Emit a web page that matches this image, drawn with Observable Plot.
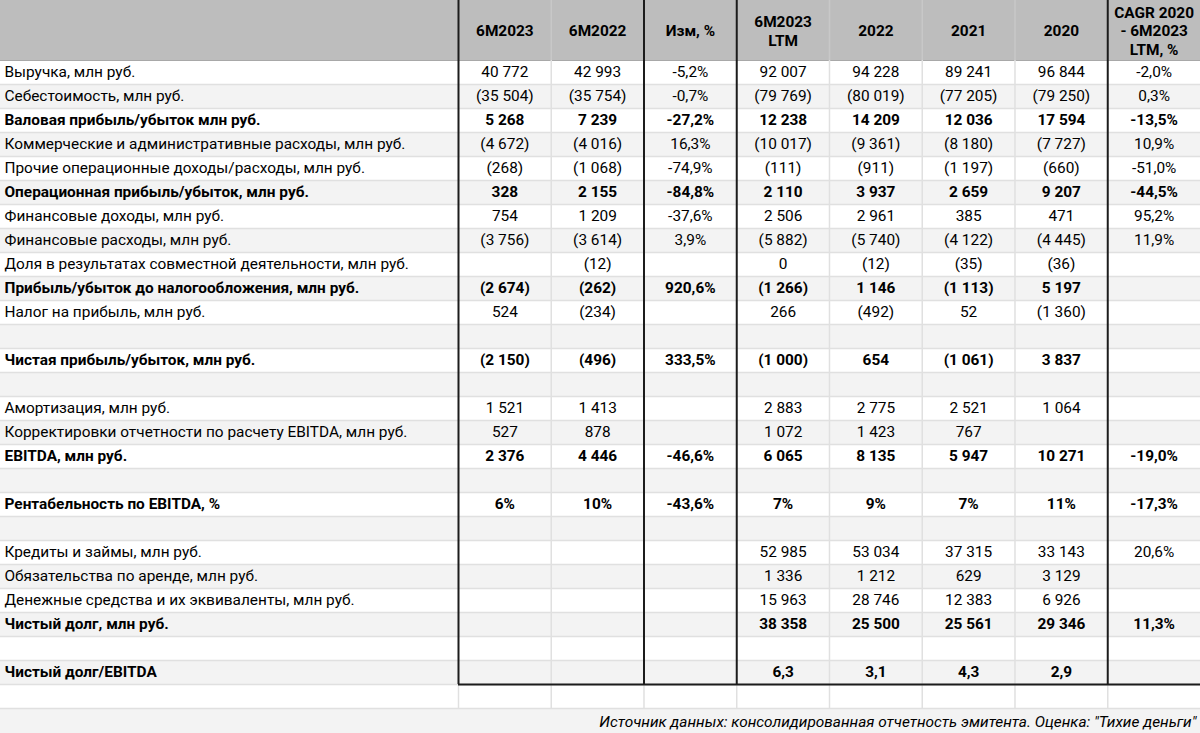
<!DOCTYPE html>
<html><head><meta charset="utf-8">
<script src="https://cdn.jsdelivr.net/npm/d3@7"></script>
<script src="https://cdn.jsdelivr.net/npm/@observablehq/plot@0.6"></script>
<style>
html,body{margin:0;padding:0;background:#fff;}
#chart svg{display:block;}
</style></head><body><div id="chart"></div>
<script>
// ---------- data ----------
const columns = ["6M2023", "6M2022", "Изм, %", "6M2023\nLTM", "2022", "2021", "2020", "CAGR 2020\n- 6M2023\nLTM, %"];
const percentColumns = ["Изм, %", "CAGR 2020\n- 6M2023\nLTM, %"];

const rowLabels = [
  "Выручка, млн руб.",
  "Себестоимость, млн руб.",
  "Валовая прибыль/убыток млн руб.",
  "Коммерческие и административные расходы, млн руб.",
  "Прочие операционные доходы/расходы, млн руб.",
  "Операционная прибыль/убыток, млн руб.",
  "Финансовые доходы, млн руб.",
  "Финансовые расходы, млн руб.",
  "Доля в результатах совместной деятельности, млн руб.",
  "Прибыль/убыток до налогообложения, млн руб.",
  "Налог на прибыль, млн руб.",
  "",
  "Чистая прибыль/убыток, млн руб.",
  "",
  "Амортизация, млн руб.",
  "Корректировки отчетности по расчету EBITDA, млн руб.",
  "EBITDA, млн руб.",
  "",
  "Рентабельность по EBITDA, %",
  "",
  "Кредиты и займы, млн руб.",
  "Обязательства по аренде, млн руб.",
  "Денежные средства и их эквиваленты, млн руб.",
  "Чистый долг, млн руб.",
  "",
  "Чистый долг/EBITDA",
  ""
];
const totalRows = [
  "Валовая прибыль/убыток млн руб.",
  "Операционная прибыль/убыток, млн руб.",
  "Прибыль/убыток до налогообложения, млн руб.",
  "Чистая прибыль/убыток, млн руб.",
  "EBITDA, млн руб.",
  "Рентабельность по EBITDA, %",
  "Чистый долг, млн руб.",
  "Чистый долг/EBITDA"
];
const marginRows = ["Рентабельность по EBITDA, %"];
const multipleRows = ["Чистый долг/EBITDA"];

const v6M2023 = [40772, -35504, 5268, -4672, -268, 328, 754, -3756, null, -2674, 524, null, -2150, null, 1521, 527, 2376, null, 6, null, null, null, null, null, null, null, null];
const v6M2022 = [42993, -35754, 7239, -4016, -1068, 2155, 1209, -3614, -12, -262, -234, null, -496, null, 1413, 878, 4446, null, 10, null, null, null, null, null, null, null, null];
const vChange = [-5.2, -0.7, -27.2, 16.3, -74.9, -84.8, -37.6, 3.9, null, 920.6, null, null, 333.5, null, null, null, -46.6, null, -43.6, null, null, null, null, null, null, null, null];
const vLTM    = [92007, -79769, 12238, -10017, -111, 2110, 2506, -5882, 0, -1266, 266, null, -1000, null, 2883, 1072, 6065, null, 7, null, 52985, 1336, 15963, 38358, null, 6.3, null];
const v2022   = [94228, -80019, 14209, -9361, -911, 3937, 2961, -5740, -12, 1146, -492, null, 654, null, 2775, 1423, 8135, null, 9, null, 53034, 1212, 28746, 25500, null, 3.1, null];
const v2021   = [89241, -77205, 12036, -8180, -1197, 2659, 385, -4122, -35, -1113, 52, null, -1061, null, 2521, 767, 5947, null, 7, null, 37315, 629, 12383, 25561, null, 4.3, null];
const v2020   = [96844, -79250, 17594, -7727, -660, 9207, 471, -4445, -36, 5197, -1360, null, 3837, null, 1064, null, 10271, null, 11, null, 33143, 3129, 6926, 29346, null, 2.9, null];
const vCAGR   = [-2.0, 0.3, -13.5, 10.9, -51.0, -44.5, 95.2, 11.9, null, null, null, null, null, null, null, null, -19.0, null, -17.3, null, 20.6, null, null, 11.3, null, null, null];
const seriesValues = [v6M2023, v6M2022, vChange, vLTM, v2022, v2021, v2020, vCAGR];

const sourceNote = "Источник данных: консолидированная отчетность эмитента. Оценка: \"Тихие деньги\"";

// ---------- formatting ----------
const grp = n => String(Math.round(n)).replace(/\B(?=(\d{3})+(?!\d))/g, " ");
const dec1 = n => n.toFixed(1).replace(".", ",");
function fmt(v, rowLabel, colName) {
  if (v == null) return "";
  if (percentColumns.includes(colName)) return dec1(v) + "%";
  if (marginRows.includes(rowLabel)) return grp(v) + "%";
  if (multipleRows.includes(rowLabel)) return dec1(v);
  return v < 0 ? "(" + grp(-v) + ")" : grp(v);
}

// ---------- layout (in scale units) ----------
const W = 1200, H = 733;
const rowPx = 24;
const headerUnits = 2.5;            // header height in rows
const nRows = rowLabels.length;     // 27
const labelUnits = 4.938;           // label column width in data-column units
const xMax = labelUnits + columns.length;
const yMax = H / rowPx;
const thickEdges = [0, 2, 3, 7];
const bodyEnd = headerUnits + nRows - 1; // line under the last filled row
const fs = 15.4;

const cells = [];
rowLabels.forEach((lab, r) => {
  columns.forEach((c, ci) => {
    const t = fmt(seriesValues[ci][r], lab, c);
    if (t !== "") cells.push({r, ci, t, bold: totalRows.includes(lab)});
  });
});
const labelRows = rowLabels.map((lab, r) => ({r, lab, bold: totalRows.includes(lab)})).filter(d => d.lab !== "");
const rowIdx = d3.range(nRows);
const edges = d3.range(columns.length);

const font = "Roboto, 'Liberation Sans', sans-serif";
const plot = Plot.plot({
  width: W, height: H,
  margin: 0, marginTop: 0, marginRight: 0, marginBottom: 0, marginLeft: 0,
  x: {type: "linear", domain: [0, xMax], range: [0, W], axis: null},
  y: {type: "linear", domain: [0, yMax], range: [0, H], axis: null},
  style: {fontFamily: font, fontSize: "15px", color: "#000", background: "#fff", overflow: "visible"},
  marks: [
    // header background
    Plot.rect([0], {x1: 0, x2: xMax, y1: 0, y2: headerUnits, fill: "#bdbdbd"}),
    // alternating row backgrounds
    Plot.rect(rowIdx, {x1: 0, x2: xMax, y1: d => headerUnits + d, y2: d => headerUnits + d + 1,
      fill: d => d % 2 ? "#f3f3f3" : "#ffffff"}),
    // footer background
    Plot.rect([0], {x1: 0, x2: xMax, y1: headerUnits + nRows, y2: yMax, fill: "#f3f3f3"}),
    // horizontal row separators
    Plot.ruleY(d3.range(1, nRows + 1), {y: d => headerUnits + d, x1: 0, x2: xMax, stroke: "#e0e0e0", strokeWidth: 1.5}),
    Plot.ruleY([headerUnits], {x1: 0, x2: xMax, stroke: "#a8a8a8", strokeWidth: 1.2}),
    // thin vertical lines: header
    Plot.ruleX(edges.filter(e => !thickEdges.includes(e)), {x: e => labelUnits + e, y1: 0, y2: headerUnits, stroke: "#c8c8c8", strokeWidth: 1.5}),
    // thin vertical lines: body
    Plot.ruleX(edges.filter(e => !thickEdges.includes(e)), {x: e => labelUnits + e, y1: headerUnits, y2: bodyEnd, stroke: "#e0e0e0", strokeWidth: 1.5}),
    // thin vertical lines in the last empty row
    Plot.ruleX(edges, {x: e => labelUnits + e, y1: bodyEnd, y2: headerUnits + nRows, stroke: "#e0e0e0", strokeWidth: 1.5}),
    // thick borders
    Plot.ruleX(thickEdges, {x: e => labelUnits + e, y1: 0, y2: bodyEnd, stroke: "#1c1c1c", strokeWidth: 2}),
    Plot.ruleY([bodyEnd], {x1: labelUnits, x2: xMax, stroke: "#1c1c1c", strokeWidth: 2}),
    // header text
    Plot.text(columns, {x: (d, i) => labelUnits + i + 0.5, y: headerUnits / 2, text: d => d,
      fontWeight: "bold", fontSize: fs, lineHeight: 1.2, fill: "#000"}),
    // row labels
    Plot.text(labelRows.filter(d => !d.bold), {x: 0, y: d => headerUnits + d.r + 0.5, text: "lab",
      textAnchor: "start", dx: 4, fontSize: fs, fill: "#000"}),
    Plot.text(labelRows.filter(d => d.bold), {x: 0, y: d => headerUnits + d.r + 0.5, text: "lab",
      textAnchor: "start", dx: 4, fontSize: fs, fontWeight: "bold", fill: "#000"}),
    // values
    Plot.text(cells.filter(d => !d.bold), {x: d => labelUnits + d.ci + 0.5, y: d => headerUnits + d.r + 0.5, text: "t",
      fontSize: fs, fill: "#000"}),
    Plot.text(cells.filter(d => d.bold), {x: d => labelUnits + d.ci + 0.5, y: d => headerUnits + d.r + 0.5, text: "t",
      fontSize: fs, fontWeight: "bold", fill: "#000"}),
    // source note
    Plot.text([sourceNote], {x: xMax, y: headerUnits + nRows + 0.55, text: d => d, textAnchor: "end", dx: -4,
      fontSize: 15.4, fontStyle: "italic", fill: "#000"})
  ]
});
document.getElementById("chart").appendChild(plot);
</script>
</body></html>
